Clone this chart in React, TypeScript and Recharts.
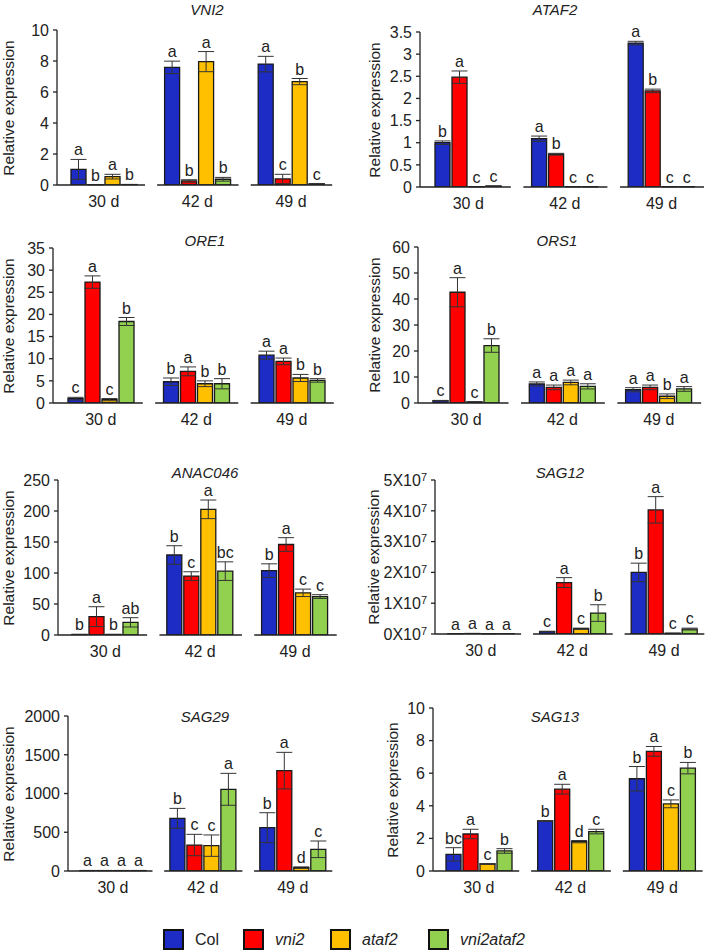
import React from 'react'
import { Bar, BarChart, ErrorBar, LabelList, XAxis, YAxis } from 'recharts'

const DAYS = ['30 d', '42 d', '49 d']
const GENOTYPES = ['Col', 'vni2', 'ataf2', 'vni2ataf2']
const COLORS = ['#1c2cc4', '#ff0000', '#ffc000', '#92d050']

// rows = days (30, 42, 49 d), columns = Col, vni2, ataf2, vni2ataf2
const vni2Mean = [[1.01, 0.02, 0.54, 0.03], [7.59, 0.26, 7.96, 0.37], [7.8, 0.39, 6.67, 0.07]]
const vni2Err = [[0.64, 0.01, 0.15, 0.01], [0.4, 0.08, 0.65, 0.12], [0.5, 0.3, 0.2, 0.02]]
const vni2Sig = [['a', 'b', 'a', 'b'], ['a', 'b', 'a', 'b'], ['a', 'c', 'b', 'c']]
const vni2Ticks = [0, 2, 4, 6, 8, 10]

const ataf2Mean = [[1.0, 2.48, 0.005, 0.02], [1.09, 0.74, 0.005, 0.005], [3.25, 2.17, 0.005, 0.005]]
const ataf2Err = [[0.04, 0.14, 0.002, 0.005], [0.06, 0.02, 0.002, 0.002], [0.04, 0.04, 0.002, 0.002]]
const ataf2Sig = [['b', 'a', 'c', 'c'], ['a', 'b', 'c', 'c'], ['a', 'b', 'c', 'c']]
const ataf2Ticks = [0, 0.5, 1, 1.5, 2, 2.5, 3, 3.5]

const ore1Mean = [[0.98, 27.3, 0.75, 18.4], [4.8, 7.15, 4.35, 4.35], [10.8, 9.4, 5.65, 5.1]]
const ore1Err = [[0.3, 1.4, 0.25, 0.9], [0.85, 1.0, 0.65, 1.15], [0.9, 0.75, 0.8, 0.4]]
const ore1Sig = [['c', 'a', 'c', 'b'], ['b', 'a', 'b', 'b'], ['a', 'a', 'b', 'b']]
const ore1Ticks = [0, 5, 10, 15, 20, 25, 30, 35]

const ors1Mean = [[0.9, 42.6, 0.4, 22.1], [7.3, 6.0, 7.9, 6.4], [5.1, 6.0, 2.6, 5.4]]
const ors1Err = [[0.1, 5.6, 0.05, 2.6], [0.8, 0.9, 0.9, 1.0], [0.8, 0.9, 0.9, 0.9]]
const ors1Sig = [['c', 'a', 'c', 'b'], ['a', 'a', 'a', 'a'], ['a', 'a', 'b', 'a']]
const ors1Ticks = [0, 10, 20, 30, 40, 50, 60]

const anac046Mean = [[0.8, 29.6, 0.8, 20.4], [129, 95, 202.7, 103], [103.8, 146, 68, 62]]
const anac046Err = [[0.2, 16, 0.2, 7.5], [15, 7, 15, 15], [11, 11, 6, 3]]
const anac046Sig = [['b', 'a', 'b', 'ab'], ['b', 'c', 'a', 'bc'], ['b', 'a', 'c', 'c']]
const anac046Ticks = [0, 50, 100, 150, 200, 250]

const sag12Mean = [[1e5, 1.5e5, 0.8e5, 1.2e5], [0.8e6, 1.67e7, 1.7e6, 6.8e6], [2.0e7, 4.03e7, 2e5, 1.6e6]]
const sag12Err = [[2e4, 2e4, 2e4, 2e4], [1e5, 1.6e6, 2e5, 2.7e6], [3e6, 4.3e6, 1e5, 3e5]]
const sag12Sig = [['a', 'a', 'a', 'a'], ['c', 'a', 'c', 'b'], ['b', 'a', 'c', 'c']]
const sag12Ticks = [0, 1e7, 2e7, 3e7, 4e7, 5e7]

const sag29Mean = [[5, 5, 5, 5], [680, 335, 327, 1054], [559, 1295, 43, 280]]
const sag29Err = [[2, 2, 2, 2], [128, 138, 138, 206], [193, 236, 10, 107]]
const sag29Sig = [['a', 'a', 'a', 'a'], ['b', 'c', 'c', 'a'], ['b', 'a', 'd', 'c']]
const sag29Ticks = [0, 500, 1000, 1500, 2000]

const sag13Mean = [[1.02, 2.27, 0.43, 1.23], [3.07, 5.02, 1.8, 2.42], [5.66, 7.34, 4.12, 6.31]]
const sag13Err = [[0.41, 0.29, 0.02, 0.14], [0.02, 0.3, 0.07, 0.14], [0.75, 0.3, 0.24, 0.35]]
const sag13Sig = [['bc', 'a', 'c', 'b'], ['b', 'a', 'd', 'c'], ['b', 'a', 'c', 'b']]
const sag13Ticks = [0, 2, 4, 6, 8, 10]

const FONT = '"Liberation Sans", Arial, sans-serif'
const INK = '#222'

const buildRows = (mean: number[][], err: number[][], sig: string[][]) =>
  DAYS.map((day, i) => {
    const row: Record<string, any> = { day }
    GENOTYPES.forEach((_, g) => {
      row[`m${g}`] = mean[i][g]
      row[`e${g}`] = err[i][g]
      row[`l${g}`] = sig[i][g]
    })
    return row
  })

function YTick(props: any) {
  const { x, y, payload, sci } = props
  const v = payload.value
  return (
    <text x={x} y={y} dy="0.36em" textAnchor="end" fill={INK} fontSize={16} fontFamily={FONT}>
      {sci ? (
        <>
          {`${v / 1e7}X10`}
          <tspan dy="-0.45em" fontSize={11}>7</tspan>
        </>
      ) : (
        String(v)
      )}
    </text>
  )
}

function DayTick(props: any) {
  const { x, y, payload, index, band } = props
  const x1 = index === 0 ? x - band / 2 : x - band * 0.43
  const x2 = x + band * 0.44
  return (
    <g>
      <line x1={x1} x2={x2} y1={y} y2={y} stroke={INK} strokeWidth={1.3} />
      <text x={x} y={y + 22} textAnchor="middle" fill={INK} fontSize={16} fontFamily={FONT}>
        {payload.value}
      </text>
    </g>
  )
}

type PanelProps = {
  title: string
  mean: number[][]
  err: number[][]
  sig: string[][]
  ticks: number[]
  col: number
  top: number
  axisX: number
  band: number
  yTop: number
  yBottom: number
  labelX: number
  titleX: number
  titleY: number
  sci?: boolean
}

function Panel(p: PanelProps) {
  const boxLeft = p.col === 0 ? 0 : 355
  const yAxisW = p.axisX - boxLeft
  const width = yAxisW + 3 * p.band + 12
  const height = p.yBottom - p.top + 40
  const data = buildRows(p.mean, p.err, p.sig)
  const max = p.ticks[p.ticks.length - 1]
  return (
    <>
      <div style={{ position: 'absolute', left: boxLeft, top: p.top }}>
        <BarChart
          width={width}
          height={height}
          data={data}
          barGap={2}
          margin={{ top: p.yTop - p.top, right: 12, bottom: 0, left: 0 }}
        >
          <XAxis
            dataKey="day"
            axisLine={false}
            tickLine={false}
            tickSize={0}
            tickMargin={0}
            interval={0}
            height={40}
            tick={<DayTick band={p.band} />}
          />
          <YAxis
            width={yAxisW}
            domain={[0, max]}
            ticks={p.ticks}
            interval={0}
            allowDataOverflow
            axisLine={{ stroke: INK, strokeWidth: 1.3 }}
            tickLine={{ stroke: INK, strokeWidth: 1.3 }}
            tickSize={4}
            tickMargin={4}
            tick={<YTick sci={p.sci} />}
          />
          {GENOTYPES.map((g, i) => [
            <Bar
              key={`${g}-m`}
              dataKey={`m${i}`}
              stackId={`s${i}`}
              fill={COLORS[i]}
              stroke="#1a1a1a"
              strokeWidth={1.3}
              barSize={15}
              isAnimationActive={false}
            >
              <ErrorBar dataKey={`e${i}`} width={8} stroke="#333" strokeWidth={1} direction="y" />
            </Bar>,
            <Bar
              key={`${g}-e`}
              dataKey={`e${i}`}
              stackId={`s${i}`}
              fill="transparent"
              barSize={15}
              isAnimationActive={false}
            >
              <LabelList
                dataKey={`l${i}`}
                position="top"
                offset={4}
                fill={INK}
                fontSize={16}
                fontFamily={FONT}
              />
            </Bar>,
          ])}
        </BarChart>
      </div>
      <div
        style={{
          position: 'absolute',
          left: p.titleX,
          top: p.titleY - 9,
          transform: 'translateX(-50%)',
          fontFamily: FONT,
          fontStyle: 'italic',
          fontSize: 15,
          lineHeight: '18px',
          color: INK,
          whiteSpace: 'nowrap',
        }}
      >
        {p.title}
      </div>
      <div
        style={{
          position: 'absolute',
          left: p.labelX,
          top: (p.yTop + p.yBottom) / 2,
          transform: 'translate(-50%, -50%) rotate(-90deg)',
          fontFamily: FONT,
          fontSize: 15.5,
          lineHeight: '16px',
          color: INK,
          whiteSpace: 'nowrap',
        }}
      >
        Relative expression
      </div>
    </>
  )
}

const PANELS: PanelProps[] = [
  { title: 'VNI2', mean: vni2Mean, err: vni2Err, sig: vni2Sig, ticks: vni2Ticks, col: 0, top: 0, axisX: 57, band: 93.6, yTop: 30, yBottom: 185, labelX: 9, titleX: 207, titleY: 10 },
  { title: 'ATAF2', mean: ataf2Mean, err: ataf2Err, sig: ataf2Sig, ticks: ataf2Ticks, col: 1, top: 0, axisX: 420, band: 96.6, yTop: 32, yBottom: 187, labelX: 375, titleX: 555, titleY: 10 },
  { title: 'ORE1', mean: ore1Mean, err: ore1Err, sig: ore1Sig, ticks: ore1Ticks, col: 0, top: 220, axisX: 53, band: 95.5, yTop: 248, yBottom: 403, labelX: 9, titleX: 205, titleY: 241 },
  { title: 'ORS1', mean: ors1Mean, err: ors1Err, sig: ors1Sig, ticks: ors1Ticks, col: 1, top: 220, axisX: 418, band: 96.3, yTop: 247, yBottom: 403, labelX: 375, titleX: 557, titleY: 241 },
  { title: 'ANAC046', mean: anac046Mean, err: anac046Err, sig: anac046Sig, ticks: anac046Ticks, col: 0, top: 450, axisX: 58, band: 94.8, yTop: 480, yBottom: 635, labelX: 9, titleX: 205, titleY: 473 },
  { title: 'SAG12', mean: sag12Mean, err: sag12Err, sig: sag12Sig, ticks: sag12Ticks, col: 1, top: 450, axisX: 435, band: 91.6, yTop: 480, yBottom: 634, labelX: 374, titleX: 560, titleY: 473, sci: true },
  { title: 'SAG29', mean: sag29Mean, err: sag29Err, sig: sag29Sig, ticks: sag29Ticks, col: 0, top: 690, axisX: 68, band: 89.9, yTop: 716, yBottom: 871, labelX: 9, titleX: 205, titleY: 717 },
  { title: 'SAG13', mean: sag13Mean, err: sag13Err, sig: sag13Sig, ticks: sag13Ticks, col: 1, top: 690, axisX: 433, band: 91.7, yTop: 708, yBottom: 871, labelX: 393, titleX: 555, titleY: 717 },
]

const LEGEND_WIDTHS = [80, 87, 98, 120]

export default function App() {
  return (
    <div
      style={{
        position: 'absolute',
        left: 0,
        top: 0,
        width: 709,
        height: 952,
        overflow: 'hidden',
        background: '#fff',
      }}
    >
      {PANELS.map((p) => (
        <Panel key={p.title} {...p} />
      ))}
      <div style={{ position: 'absolute', left: 163, top: 929, display: 'flex', alignItems: 'center' }}>
        {GENOTYPES.map((g, i) => (
          <div key={g} style={{ width: LEGEND_WIDTHS[i], display: 'flex', alignItems: 'center' }}>
            <span
              style={{
                width: 17,
                height: 17,
                background: COLORS[i],
                border: '2px solid #111',
                display: 'inline-block',
                marginRight: 11,
              }}
            />
            <span
              style={{
                fontFamily: FONT,
                fontSize: 16,
                color: INK,
                fontStyle: i === 0 ? 'normal' : 'italic',
              }}
            >
              {g}
            </span>
          </div>
        ))}
      </div>
    </div>
  )
}
